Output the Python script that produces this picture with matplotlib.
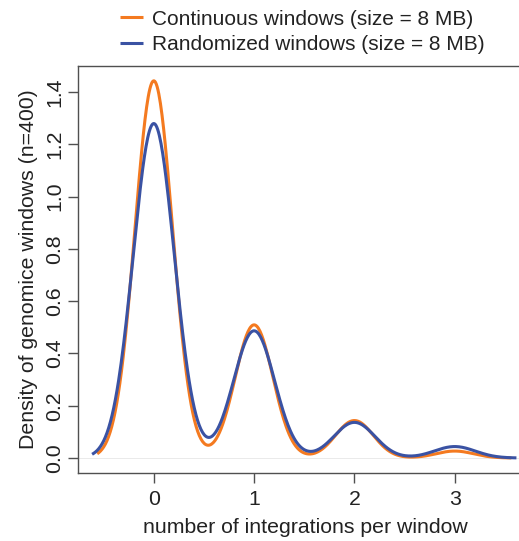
import numpy as np
import matplotlib.pyplot as plt

plt.rcParams['font.family'] = ['Liberation Sans', 'DejaVu Sans']

# number of windows (n=400) holding 0, 1, 2, 3 integrations
integrations = [0, 1, 2, 3]
continuous_counts = [272, 96, 27, 5]
randomized_counts = [263, 100, 28, 9]
# kernel bandwidths of the two density estimates
continuous_bw = 0.188
randomized_bw = 0.205

labels = ['Continuous windows (size = 8 MB)', 'Randomized windows (size = 8 MB)']
colors = ['#F47A20', '#3A52A3']

FS = 15.3


def density(counts, bw, n_grid=512):
    # gaussian kernel density, grid spans data range +/- 3 bandwidths (like R)
    x = np.repeat(integrations, counts).astype(float)
    grid = np.linspace(x.min() - 3 * bw, x.max() + 3 * bw, n_grid)
    z = (grid[:, None] - x[None, :]) / bw
    dens = np.exp(-0.5 * z ** 2).sum(axis=1) / (len(x) * bw * np.sqrt(2 * np.pi))
    return grid, dens


fig = plt.figure(figsize=(5.19, 5.41), dpi=100)
ax = fig.add_axes([0.150, 0.1257, 0.875, 0.7523])

curves = [density(continuous_counts, continuous_bw),
          density(randomized_counts, randomized_bw)]

ax.axhline(0, color='#e6e6e6', lw=0.6, zorder=0)
lines = []
for (gx, gy), c in zip(curves, colors):
    ln, = ax.plot(gx, gy, color=c, lw=2.2, solid_capstyle='butt')
    lines.append(ln)

ax.set_xlim(-0.757, 3.77)
ax.set_ylim(-0.0574, 1.4996)
ax.set_xticks([0, 1, 2, 3])
ax.set_yticks(np.arange(0, 1.41, 0.2))
ax.set_yticklabels(['%.1f' % v for v in np.arange(0, 1.41, 0.2)],
                   rotation=90, va='center')

for s in ax.spines.values():
    s.set_color('#505050')
    s.set_linewidth(1.0)
ax.tick_params(axis='both', direction='out', length=7, width=1.0,
               color='#505050', labelsize=FS, labelcolor='#222222')
ax.tick_params(axis='x', pad=5)
ax.tick_params(axis='y', pad=3)

ax.set_xlabel('number of integrations per window', fontsize=FS,
              color='#222222', labelpad=6.5)
ax.set_ylabel('Density of genomice windows (n=400)', fontsize=FS,
              color='#222222', labelpad=5)

fig.legend(lines, labels, loc='upper left', bbox_to_anchor=(0.195, 1.017),
           frameon=False, fontsize=15.0, handlelength=1.1, handletextpad=0.45,
           labelspacing=0.32, labelcolor='#222222')

fig.savefig('out.png', dpi=100)
